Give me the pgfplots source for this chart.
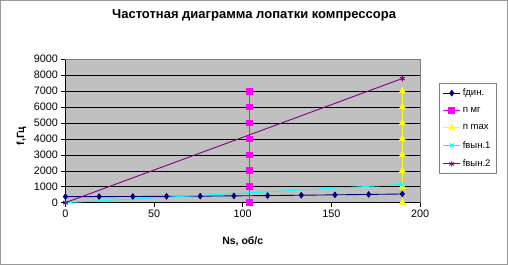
\documentclass[border=0pt]{standalone}
\usepackage{pgfplots}
\pgfplotsset{compat=1.18}
\usepackage{fontspec}
\setmainfont{Liberation Sans}
\definecolor{plotgray}{HTML}{C0C0C0}
\definecolor{fnavy}{HTML}{000080}
\definecolor{fmag}{HTML}{FF00FF}
\definecolor{fyel}{HTML}{FFFF00}
\definecolor{fcyan}{HTML}{00FFFF}
\definecolor{fpurp}{HTML}{800080}
\begin{document}
\begin{tikzpicture}[x=1pt,y=1pt]
\draw[gray!80, line width=0.8pt] (0.5,0.5) rectangle (507.5,264.5);
\begin{axis}[
  at={(65.5pt,62.3pt)}, anchor=south west,
  scale only axis, width=354.5pt, height=143.4pt,
  xmin=0, xmax=200, ymin=0, ymax=9000,
  xtick={0,50,100,150,200},
  ytick={0,1000,...,9000},
  /pgf/number format/1000 sep={},
  /pgf/number format/assume math mode=true,
  tick label style={font=\fontsize{10.8}{12}\selectfont},
  axis background/.style={fill=plotgray},
  ymajorgrids, grid style={black, line width=0.6pt},
  axis x line*=bottom, axis y line*=left,
  axis line style={-, black, line width=0.6pt},
  tick align=outside, tick style={black, line width=0.6pt},
  major tick length=4pt,
  clip=false,
  title={Частотная диаграмма лопатки компрессора},
  title style={at={(axis description cs:0.532,1)}, anchor=center, yshift=38pt, font=\bfseries\fontsize{13}{15}\selectfont},
  xlabel={Ns, об/с},
  xlabel style={at={(axis description cs:0.5,0)}, anchor=center, yshift=-39pt, font=\bfseries\fontsize{10.5}{12}\selectfont},
  ylabel={f,Гц},
  ylabel style={at={(axis description cs:-0.124,0.465)}, anchor=center, font=\bfseries\fontsize{10.5}{12}\selectfont},
  legend style={at={(1.0536,0.8326)}, anchor=north west, draw=gray, fill=white,
    font=\fontsize{9.5}{11}\selectfont, row sep=6.2pt, inner sep=3.5pt},
  legend cell align=left,
]
\draw[gray, line width=0.6pt] (rel axis cs:0,1) -- (rel axis cs:1,1) -- (rel axis cs:1,0);
\addplot[fnavy, line width=0.9pt, mark=diamond*, mark size=2.7pt, mark options={fill=fnavy}] coordinates {
(0,380) (19,381) (38,388) (57,398) (76,410) (95,427) (114,446) (133,468) (152,492) (171,518) (190,545)};
\addlegendentry{fдин.}
\addplot[fmag, line width=0.9pt, mark=square*, mark size=2.9pt, mark options={fill=fmag}] coordinates {
(104,0) (104,1000) (104,2000) (104,3000) (104,4000) (104,5000) (104,6000) (104,7000)};
\addlegendentry{n мг}
\addplot[fyel, line width=0.9pt, mark=triangle*, mark size=3.3pt, mark options={fill=fyel}] coordinates {
(190,0) (190,1000) (190,2000) (190,3000) (190,4000) (190,5000) (190,6000) (190,7000)};
\addlegendentry{n max}
\addplot[fcyan, line width=0.9pt, mark=x, mark size=2.8pt] coordinates {
(0,0) (190,1140)};
\addlegendentry{fвын.1}
\addplot[fpurp, line width=0.9pt, mark=asterisk, mark size=2.8pt] coordinates {
(0,0) (190,7790)};
\addlegendentry{fвын.2}
\end{axis}
\end{tikzpicture}
\end{document}
